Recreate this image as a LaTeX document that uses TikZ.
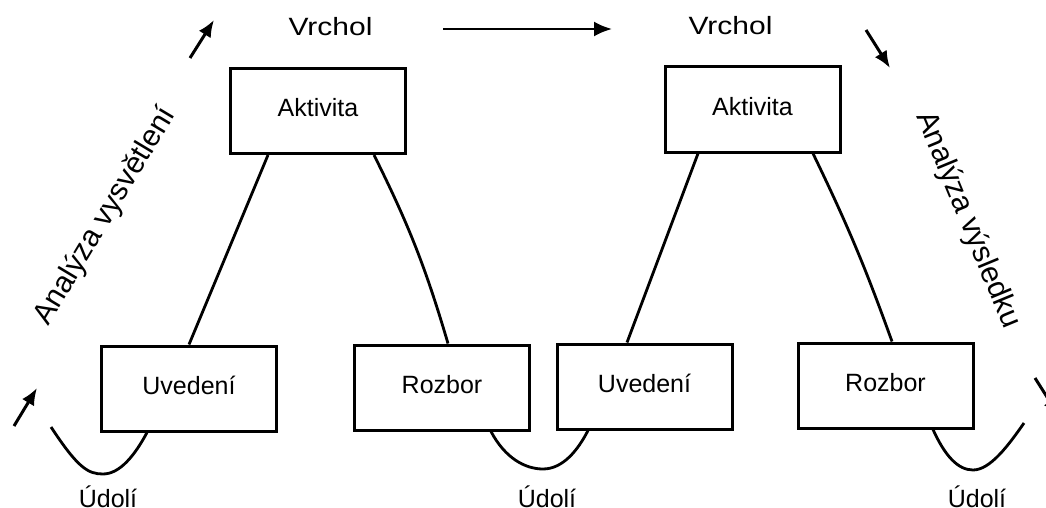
\documentclass[tikz,border=0pt]{standalone}
\usepackage{graphicx}
\usepackage{fontspec}
\setmainfont{Liberation Sans}
\usetikzlibrary{arrows.meta,calc}
\begin{document}
\begin{tikzpicture}[x=1pt,y=-1pt,
  box/.style={draw, line width=3pt, minimum width=175pt, minimum height=85pt, inner sep=0pt,
    font=\fontsize{25}{30}\selectfont, text height=12pt, text depth=0pt},
  lab/.style={font=\fontsize{25}{30}\selectfont, inner sep=0pt},
  rlab/.style={font=\fontsize{30}{36}\selectfont, inner sep=0pt, anchor=base west},
  conn/.style={line width=2.8pt},
  arr/.style={line width=3pt, -{Latex[length=17pt,width=14pt]}},
  harr/.style={line width=2.4pt, -{Latex[length=18pt,width=15pt]}},
]
\useasboundingbox (0,0) rectangle (1046,508);
\clip (0,0) rectangle (1046,508);

% boxes
\node[box] (A1) at (318,111) {Aktivita};
\node[box] (U1) at (189,388.5) {Uveden\'{\i}};
\node[box] (R1) at (442,387.5) {Rozbor};
\node[box] (A2) at (752.5,109.5) {Aktivita};
\node[box] (U2) at (644.5,386.5) {Uveden\'{\i}};
\node[box] (R2) at (885.5,385.5) {Rozbor};

% connectors
\draw[conn] ([xshift=-50pt]A1.south) -- (U1.north);
\draw[conn] ([xshift=56pt]A1.south) to[bend left=5] ([xshift=6pt]R1.north);
\draw[conn] ([xshift=-54.5pt]A2.south) -- ([xshift=-17.5pt]U2.north);
\draw[conn] ([xshift=60.5pt]A2.south) to[bend left=3] ([xshift=6.5pt]R2.north);

% valleys
\coordinate (vL) at (51,427);
\coordinate (vR) at (1024,423);
\draw[conn] (vL) .. controls (78,468) and (88,474) .. (103,474)
  .. controls (120,474) and (135,455) .. ([xshift=-42pt]U1.south);
\draw[conn] ([xshift=49pt]R1.south) .. controls (505,458) and (525,469) .. (543,469)
  .. controls (563,469) and (578,450) .. ([xshift=-56.5pt]U2.south);
\draw[conn] ([xshift=47.5pt]R2.south) .. controls (945,456) and (958,470) .. (973,470)
  .. controls (990,470) and (1008,446) .. (vR);

% labels
\node[lab, anchor=base] (V1) at (330.5,36) {\scalebox{1.2}[1]{Vrchol}};
\node[lab, anchor=base] (V2) at (730.5,35) {\scalebox{1.2}[1]{Vrchol}};
\node[lab, anchor=base] (D1) at (108,507) {\'Udol\'{\i}};
\node[lab, anchor=base] (D2) at (547,507) {\'Udol\'{\i}};
\node[lab, anchor=base] (D3) at (977,507) {\'Udol\'{\i}};
\node[rlab, rotate=59] (T1) at (48,327) {Analýza vysvětlení};
\node[rlab, rotate=-67.5] (T2) at (916,116) {Analýza výsledku};

% arrows
\coordinate (a1s) at (190,58);   \coordinate (a1e) at (214,20);
\coordinate (a2s) at (14,426);   \coordinate (a2e) at (37,388);
\coordinate (hs) at (443,29);    \coordinate (he) at (612,29);
\coordinate (a3s) at (866,30);   \coordinate (a3e) at (890,68);
\coordinate (a4s) at (1035,378); \coordinate (a4e) at (1059,416);
\draw[arr] (a1s) -- (a1e);
\draw[arr] (a2s) -- (a2e);
\draw[harr] (hs) -- (he);
\draw[arr] (a3s) -- (a3e);
\draw[arr] (a4s) -- (a4e);
\end{tikzpicture}
\end{document}
